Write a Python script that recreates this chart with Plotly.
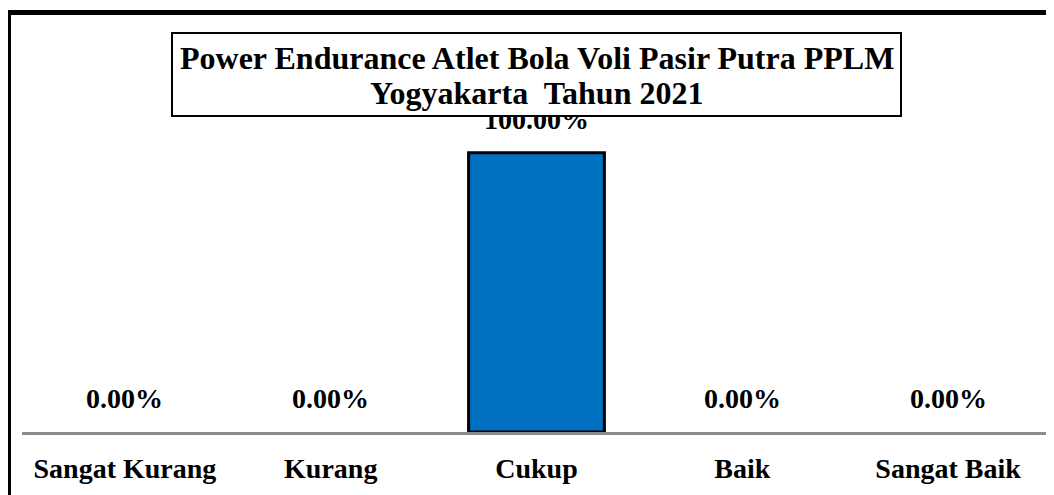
import plotly.graph_objects as go

categories = ["Sangat Kurang", "Kurang", "Cukup", "Baik", "Sangat Baik"]
values = [0.0, 0.0, 1.0, 0.0, 0.0]
title_lines = ["Power Endurance Atlet Bola Voli Pasir Putra PPLM", "Yogyakarta  Tahun 2021"]

FONT = "Liberation Serif, Times New Roman, serif"

fig = go.Figure()
fig.add_trace(go.Bar(
    x=categories,
    y=values,
    marker=dict(color="#0070C0",
                line=dict(color="black", width=[3 if v > 0 else 0 for v in values])),
    hoverinfo="skip",
))

annotations = []
for c, v in zip(categories, values):
    annotations.append(dict(
        x=c, y=v, xref="x", yref="y",
        text=f"{v:.2%}", showarrow=False,
        yanchor="bottom", yshift=16,
        font=dict(family=FONT, size=28, color="black", weight="bold"),
    ))
# title box (drawn over the value label, as in the reference)
annotations.append(dict(
    x=0.5, y=1.067, xref="paper", yref="paper",
    text=" ", showarrow=False, xanchor="center", yanchor="middle",
    width=727, height=81, borderpad=0,
    bgcolor="white", bordercolor="black", borderwidth=2,
    font=dict(family=FONT, size=10),
))
for line, yy in zip(title_lines, [1.115, 1.012]):
    annotations.append(dict(
        x=0.5, y=yy, xref="paper", yref="paper",
        text=line, showarrow=False, xanchor="center", yanchor="middle",
        font=dict(family=FONT, size=32, color="black", weight="bold"),
    ))

fig.update_layout(
    width=1054, height=495,
    margin=dict(l=14, r=11, t=89, b=71),
    paper_bgcolor="white", plot_bgcolor="white",
    showlegend=False,
    bargap=0.34,
    annotations=annotations,
    shapes=[dict(
        type="rect", xref="paper", yref="paper",
        x0=-0.0131, x1=1.03, y0=-0.4, y1=1.252,
        line=dict(color="black", width=5), fillcolor="rgba(0,0,0,0)",
    )],
    xaxis=dict(
        showline=True, linecolor="#8c8c8c", linewidth=3,
        showgrid=False, ticks="", zeroline=False, automargin=False,
        ticklabelstandoff=9,
        tickfont=dict(family=FONT, size=28, color="black", weight="bold"),
    ),
    yaxis=dict(range=[0, 1.2], visible=False, showgrid=False, zeroline=False),
)

fig.write_html("out.html")
